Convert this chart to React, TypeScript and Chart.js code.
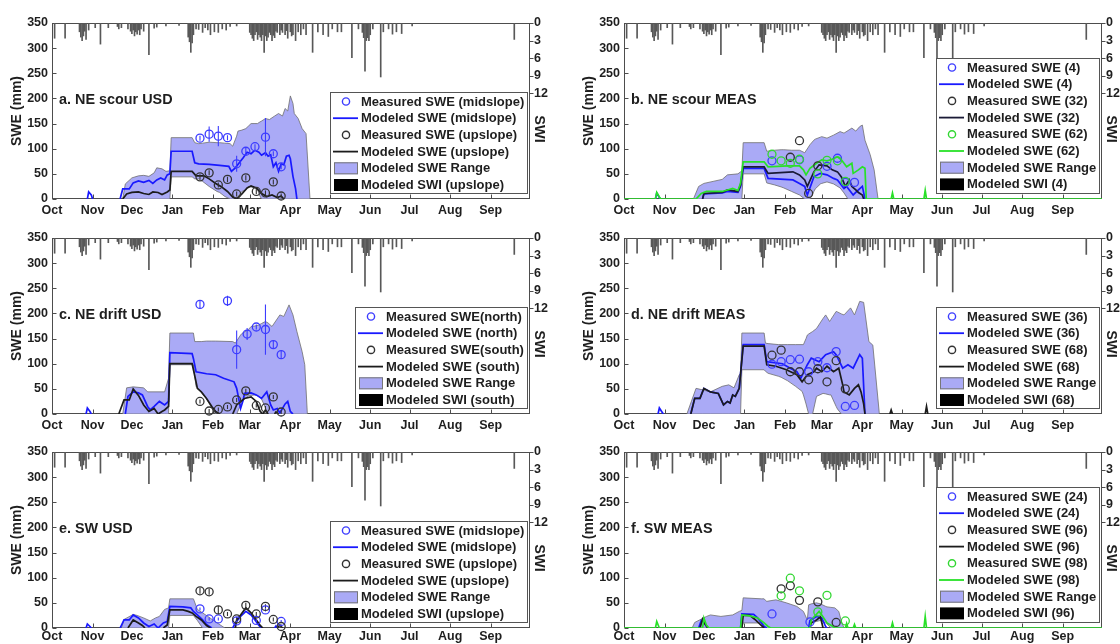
import React, { useEffect, useRef } from 'react';
import { Chart, registerables } from 'chart.js';

Chart.register(...registerables);

type P = [number, number | null];

const FONT = '"Liberation Sans", Arial, Helvetica, sans-serif';
const TXT = '#1e1e1e';
const AXIS = '#4d4d4d';
const BLUE = 'rgb(25,25,255)';
const BLUE_PT = 'rgb(60,60,255)';
const BLACK = '#1c1c1c';
const BLACK_PT = '#333333';
const GREEN = 'rgb(40,225,40)';
const GREEN_PT = 'rgb(50,215,50)';
const RANGE_FILL = 'rgb(170,170,246)';
const RANGE_EDGE = '#6e6e6e';
const SWI_COLOR = '#585858';

// ---- axes ----
const monthStarts = [0, 31, 61, 92, 123, 151, 182, 212, 243, 273, 304, 335];
const monthNames = ['Oct', 'Nov', 'Dec', 'Jan', 'Feb', 'Mar', 'Apr', 'May', 'Jun', 'Jul', 'Aug', 'Sep'];
const sweTickValues = [0, 50, 100, 150, 200, 250, 300, 350];
const swiTickValues = [0, 3, 6, 9, 12];

// ---- daily SWI (day of water year, SWI) ----
const swiDaily: [number, number][] = [
  [2, 2.6], [10, 2.6], [21, 1.5], [22, 2.4], [23, 3.0], [24, 2.2], [25, 1.4], [26, 2.8], [28, 1.2], [33, 0.8],
  [37, 3.6], [43, 0.8], [50, 0.6], [51, 1.0], [53, 0.8], [58, 1.0], [60, 1.4], [61, 1.8], [62, 1.2], [63, 2.2],
  [64, 1.5], [65, 1.9], [66, 1.2], [67, 2.0], [68, 1.0], [70, 1.4], [74, 5.4], [78, 0.9], [80, 0.7], [87, 0.5],
  [97, 0.4], [104, 2.4], [105, 3.2], [106, 5.0], [107, 3.4], [108, 2.0], [110, 1.0], [112, 1.1], [115, 1.6], [117, 0.8],
  [119, 1.2], [121, 2.0], [124, 1.5], [127, 1.6], [130, 1.0], [133, 1.2], [136, 0.6], [141, 0.5], [151, 1.6], [152, 2.0],
  [153, 2.6], [154, 3.0], [155, 2.0], [156, 1.5], [157, 2.8], [158, 2.0], [159, 2.4], [160, 3.0], [161, 2.0], [162, 5.0],
  [163, 2.2], [164, 3.0], [165, 2.4], [166, 1.6], [167, 2.0], [168, 3.0], [169, 2.1], [170, 2.5], [171, 1.4], [172, 1.6],
  [174, 2.0], [175, 1.2], [176, 1.6], [178, 2.0], [179, 1.3], [180, 2.6], [182, 1.5], [183, 2.2], [184, 2.0], [186, 3.0],
  [188, 1.5], [190, 2.0], [192, 1.0], [194, 2.0], [199, 5.0], [203, 1.5], [207, 2.0], [211, 2.3], [214, 1.0], [218, 1.5],
  [221, 1.5], [229, 5.9], [234, 1.0], [237, 1.6], [238, 2.5], [239, 8.2], [240, 3.0], [241, 2.5], [242, 3.0], [243, 2.0],
  [245, 1.0], [251, 9.2], [253, 1.5], [257, 1.0], [260, 1.9], [263, 1.5], [267, 1.8], [275, 0.5], [353, 2.8],
];

// ---- panel a: NE scour USD ----
const aRangeDays = [54, 56, 61, 66, 70, 74, 78, 80, 84, 87, 90, 91, 107, 109, 112, 115, 120, 126, 128, 132, 136, 138, 141, 142, 145, 148, 150, 152, 155, 157, 158, 160, 163, 166, 170, 173, 176, 178, 180, 182, 184, 185, 188, 191, 194, 197];
const aRangeHi = [0, 30, 42, 46, 47, 45, 52, 62, 60, 55, 56, 122, 122, 112, 110, 111, 113, 112, 112, 111, 110, 105, 125, 135, 137, 140, 145, 150, 150, 150, 152, 155, 160, 158, 165, 170, 165, 180, 175, 205, 190, 170, 160, 140, 130, 0];
const aRangeLo = [0, 0, 0, 0, 0, 0, 0, 0, 0, 0, 0, 44, 44, 40, 40, 35, 25, 15, 13, 5, 0, 0, 0, 5, 15, 18, 25, 24, 22, 20, 10, 0, 0, 0, 0, 0, 0, 0, 0, 0, 0, 0, 0, 0, 0, 0];
const aModelMid: P[] = [[27, 0], [28, 14], [30, 8], [31, 0], [31, null], [52, 0], [54, 20], [59, 20], [62, 32], [66, 36], [70, 33], [74, 37], [77, 31], [80, 38], [83, 42], [86, 38], [88, 48], [90, 50], [91, 95], [107, 95], [109, 72], [112, 70], [120, 69], [128, 67], [135, 65], [137, 55], [140, 62], [143, 72], [146, 82], [149, 93], [152, 90], [155, 97], [158, 93], [160, 87], [163, 92], [165, 85], [167, 88], [169, 64], [171, 72], [173, 55], [175, 70], [177, 68], [179, 85], [181, 87], [182, 80], [184, 45], [186, 20], [187, 0]];
const aModelUp: P[] = [[54, 0], [57, 10], [61, 13], [66, 14], [70, 11], [74, 9], [77, 14], [81, 13], [84, 9], [88, 14], [90, 18], [91, 55], [107, 55], [110, 46], [116, 46], [120, 40], [125, 31], [129, 25], [134, 15], [138, 4], [141, 0], [145, 10], [149, 22], [152, 26], [156, 22], [160, 11], [164, 5], [168, 8], [172, 3], [175, 6], [177, 0]];
const aMeasMidDays = [113, 120, 127, 134, 141, 148, 155, 163, 169, 175];
const aMeasMidSwe = [121, 129, 125, 122, 70, 95, 104, 123, 90, 64];
const aMeasMidErr = [5, 15, 20, 5, 16, 8, 5, 38, 5, 5];
const aMeasUpDays = [113, 120, 127, 134, 141, 148, 156, 163, 169, 175];
const aMeasUpSwe = [44, 52, 28, 39, 10, 42, 15, 12, 34, 6];
const aMeasUpErr = [5, 5, 5, 5, 5, 5, 5, 5, 5, 5];

// ---- panel b: NE scour MEAS ----
const bRangeDays = [53, 57, 61, 68, 75, 79, 87, 89, 90, 91, 107, 109, 115, 120, 122, 128, 134, 138, 142, 145, 146, 150, 151, 155, 160, 165, 168, 171, 174, 177, 180, 182, 184, 188, 191, 194];
const bRangeHi = [0, 25, 31, 35, 39, 48, 50, 54, 55, 112, 112, 95, 97, 98, 98, 97, 97, 92, 108, 117, 119, 123, 124, 121, 127, 134, 131, 136, 141, 135, 144, 147, 117, 88, 58, 0];
const bRangeLo = [0, 0, 0, 0, 0, 0, 0, 0, 0, 50, 50, 32, 28, 24, 22, 15, 8, 0, 0, 15, 20, 30, 31, 34, 30, 22, 12, 0, 0, 0, 0, 0, 0, 0, 0, 0];
const bModel4: P[] = [[24, 0], [25, 12], [27, 3], [28, 0], [28, null], [60, 0], [61, 10], [75, 12], [79, 15], [87, 13], [89, 25], [91, 61], [107, 61], [110, 41], [129, 38], [134, 31], [138, 25], [140, 8], [145, 44], [150, 51], [155, 48], [160, 41], [163, 38], [168, 21], [170, 25], [175, 8], [179, 18], [182, 25], [184, 0]];
const bModel32: P[] = [[60, 0], [61, 11], [75, 13], [79, 18], [87, 15], [89, 28], [91, 64], [107, 64], [110, 51], [129, 54], [134, 48], [138, 38], [140, 25], [145, 54], [149, 68], [155, 66], [159, 58], [163, 54], [166, 44], [169, 25], [172, 38], [174, 25], [177, 18], [179, 13], [182, 8], [183, 0]];
const bModel62: P[] = [[0, 0], [24, 0], [25, 13], [27, 4], [28, 0], [55, 0], [59, 11], [63, 15], [75, 15], [79, 18], [83, 21], [87, 17], [89, 31], [91, 74], [107, 74], [110, 64], [125, 66], [134, 66], [137, 58], [139, 48], [142, 61], [147, 71], [151, 78], [155, 76], [159, 79], [163, 84], [166, 78], [170, 64], [174, 71], [175, 51], [179, 58], [182, 64], [184, 61], [185, 0], [204, 0], [205, 12], [206, 0], [229, 0], [230, 17], [231, 0], [365, 0]];
const bMeas4Days = [113, 134, 155, 163, 169, 176];
const bMeas4Swe = [76, 78, 65, 81, 33, 33];
const bMeas32Days = [127, 134, 141, 148];
const bMeas32Swe = [83, 116, 11, 66];
const bMeas62Days = [113, 120, 127, 134, 148, 155, 163, 169];
const bMeas62Swe = [89, 76, 71, 79, 50, 77, 76, 35];

// ---- panel c: NE drift USD ----
const cRangeDays = [54, 57, 62, 70, 73, 86, 89, 90, 108, 109, 110, 114, 118, 122, 125, 138, 140, 141, 144, 145, 150, 152, 155, 158, 160, 163, 165, 168, 174, 177, 181, 184, 187, 191, 193, 195];
const cRangeHi = [0, 52, 54, 52, 44, 44, 71, 161, 161, 144, 144, 144, 145, 145, 145, 144, 141, 145, 157, 160, 168, 174, 175, 177, 180, 184, 181, 174, 197, 194, 217, 197, 164, 124, 98, 0];
const cRangeLo = [0, 0, 0, 0, 0, 0, 0, 98, 98, 75, 55, 44, 30, 12, 0, 0, 0, 0, 18, 25, 36, 37, 38, 35, 30, 12, 0, 0, 0, 0, 0, 0, 0, 0, 0, 0];
const cModelNorth: P[] = [[26, 0], [27, 12], [29, 5], [30, 0], [30, null], [56, 0], [58, 35], [62, 44], [66, 42], [69, 38], [73, 15], [75, 8], [78, 15], [82, 25], [86, 18], [89, 25], [90, 122], [107, 120], [108, 110], [110, 84], [118, 80], [125, 78], [131, 71], [139, 64], [141, 51], [143, 25], [144, 11], [146, 28], [147, 41], [152, 42], [156, 38], [160, 31], [164, 44], [167, 18], [169, 8], [172, 11], [174, 2], [178, 20], [180, 25], [182, 5], [184, 0]];
const cModelSouth: P[] = [[51, 0], [55, 28], [59, 28], [62, 50], [66, 37], [70, 18], [74, 5], [78, 11], [81, 0], [84, 5], [86, 8], [89, 15], [90, 100], [107, 100], [110, 64], [111, 51], [114, 44], [118, 31], [122, 15], [125, 5], [128, 0], [128, null], [138, 0], [141, 18], [147, 31], [152, 34], [156, 25], [159, 5], [161, 0], [163, 8], [165, 0], [165, null], [170, 0], [171, 4], [173, 0]];
const cMeasNorthDays = [113, 134, 141, 149, 156, 163, 169, 175];
const cMeasNorthSwe = [218, 225, 128, 159, 173, 168, 138, 118];
const cMeasNorthErr = [8, 10, 38, 12, 5, 50, 8, 8];
const cMeasSouthDays = [113, 120, 127, 134, 141, 148, 156, 163, 169, 175];
const cMeasSouthSwe = [25, 6, 9, 14, 28, 46, 17, 12, 34, 4];
const cMeasSouthErr = [4, 4, 4, 4, 4, 4, 4, 4, 4, 4];

// ---- panel d: NE drift MEAS ----
const dRangeDays = [48, 55, 60, 66, 75, 80, 84, 88, 89, 90, 107, 108, 110, 118, 120, 125, 131, 136, 137, 139, 140, 141, 144, 147, 152, 154, 157, 158, 162, 163, 166, 168, 173, 176, 180, 183, 187, 190, 195];
const dRangeHi = [0, 51, 48, 44, 55, 58, 52, 78, 80, 161, 161, 141, 140, 138, 138, 138, 138, 138, 138, 150, 157, 159, 164, 170, 190, 197, 184, 188, 204, 203, 199, 197, 211, 197, 224, 222, 144, 137, 0];
const dRangeLo = [0, 0, 0, 0, 0, 0, 0, 0, 0, 88, 88, 85, 81, 75, 73, 66, 55, 45, 38, 20, 10, 0, 0, 35, 41, 40, 38, 38, 15, 10, 0, 0, 0, 0, 0, 0, 0, 0, 0];
const dModel36: P[] = [[26, 0], [27, 12], [29, 4], [30, 0], [30, null], [51, 0], [54, 31], [58, 31], [61, 51], [66, 44], [72, 41], [76, 18], [79, 25], [81, 22], [83, 38], [85, 35], [88, 51], [91, 138], [107, 138], [109, 104], [121, 100], [127, 91], [132, 84], [135, 71], [140, 98], [143, 111], [149, 104], [154, 118], [160, 124], [162, 118], [167, 91], [171, 98], [175, 91], [180, 118], [182, 111], [184, 0]];
const dModel68: P[] = [[51, 0], [54, 31], [58, 31], [61, 51], [66, 44], [72, 41], [76, 18], [79, 25], [81, 22], [83, 38], [85, 35], [88, 51], [91, 135], [107, 135], [109, 98], [116, 95], [124, 88], [132, 78], [136, 64], [140, 78], [145, 84], [147, 91], [151, 84], [155, 95], [160, 84], [164, 91], [167, 58], [168, 44], [172, 38], [176, 51], [179, 58], [181, 44], [183, 20], [184, 0], [184, null], [203, 0], [204, 8], [205, 0], [205, null], [230, 0], [231, 15], [232, 0]];
const dMeas36Days = [113, 120, 127, 134, 141, 148, 155, 162, 169, 176];
const dMeas36Swe = [99, 104, 108, 109, 84, 104, 92, 124, 15, 17];
const dMeas68Days = [113, 120, 127, 134, 141, 148, 155, 162, 169];
const dMeas68Swe = [117, 127, 84, 84, 68, 90, 64, 106, 50];

// ---- panel e: SW USD ----
const eRangeDays = [53, 55, 62, 65, 70, 75, 79, 82, 86, 89, 90, 108, 111, 115, 119, 125, 132];
const eRangeHi = [0, 17, 27, 25, 20, 14, 20, 23, 37, 40, 58, 58, 37, 30, 23, 12, 0];
const eRangeLo = [0, 0, 0, 0, 0, 0, 0, 0, 0, 0, 25, 25, 15, 0, 0, 0, 0];
const eModelMid: P[] = [[26, 0], [27, 8], [29, 3], [30, 0], [30, null], [52, 0], [55, 16], [59, 16], [62, 26], [66, 20], [70, 10], [74, 3], [78, 8], [81, 0], [85, 10], [88, 13], [90, 43], [100, 42], [106, 40], [108, 33], [111, 26], [115, 16], [118, 7], [122, 0], [122, null], [138, 0], [140, 10], [144, 23], [148, 33], [152, 26], [155, 16], [158, 5], [160, 0], [160, null], [170, 0], [171, 4], [172, 0]];
const eModelUp: P[] = [[58, 0], [62, 16], [66, 10], [69, 5], [71, 0], [71, null], [85, 0], [88, 6], [90, 36], [100, 36], [104, 33], [107, 30], [110, 23], [114, 16], [118, 5], [121, 0], [121, null], [140, 0], [141, 16], [144, 26], [148, 40], [152, 30], [155, 20], [159, 5], [161, 0], [161, null], [172, 0], [174, 6], [176, 0]];
const eMeasMidDays = [113, 120, 127, 141, 156, 163, 175];
const eMeasMidSwe = [38, 18, 18, 14, 15, 36, 13];
const eMeasMidErr = [3, 3, 3, 3, 3, 3, 3];
const eMeasUpDays = [113, 120, 127, 134, 141, 148, 156, 163, 169, 175];
const eMeasUpSwe = [74, 72, 36, 28, 18, 45, 28, 43, 17, 3];
const eMeasUpErr = [6, 6, 8, 4, 4, 5, 4, 4, 4, 4];

// ---- panel f: SW MEAS ----
const fRangeDays = [52, 54, 63, 66, 74, 83, 88, 90, 91, 105, 107, 108, 109, 116, 124, 132, 137, 140, 141, 143, 147, 150, 154, 155, 158, 161, 164, 166, 168];
const fRangeHi = [0, 11, 23, 26, 23, 26, 33, 35, 60, 58, 58, 55, 53, 56, 50, 43, 33, 16, 46, 48, 50, 48, 43, 42, 41, 40, 33, 13, 0];
const fRangeLo = [0, 0, 0, 0, 0, 0, 0, 0, 10, 10, 5, 0, 0, 0, 0, 0, 0, 0, 0, 10, 13, 15, 10, 8, 0, 0, 0, 0, 0];
const fModel24: P[] = [[57, 0], [59, 15], [61, 10], [64, 0], [64, null], [89, 0], [90, 28], [99, 27], [102, 20], [105, 10], [107, 3], [109, 0], [109, null], [141, 0], [142, 15], [147, 23], [151, 20], [154, 3], [155, 0]];
const fModel96: P[] = [[58, 0], [60, 18], [62, 8], [64, 0], [64, null], [90, 0], [91, 25], [96, 25], [100, 17], [104, 7], [107, 0], [107, null], [142, 0], [143, 10], [147, 16], [150, 22], [152, 0]];
const fModel98: P[] = [[0, 0], [24, 0], [25, 13], [27, 0], [60, 0], [61, 20], [63, 5], [65, 0], [89, 0], [90, 26], [96, 24], [102, 20], [107, 10], [110, 3], [112, 0], [142, 0], [143, 16], [149, 33], [151, 26], [155, 10], [159, 4], [161, 0], [169, 0], [170, 9], [171, 0], [175, 0], [176, 7], [177, 0], [204, 0], [205, 10], [206, 0], [229, 0], [230, 23], [231, 0], [365, 0]];
const fMeas24Days = [113, 142];
const fMeas24Swe = [28, 12];
const fMeas96Days = [120, 127, 134, 148, 162];
const fMeas96Swe = [78, 84, 55, 52, 11];
const fMeas98Days = [120, 127, 134, 148, 155, 169];
const fMeas98Swe = [64, 99, 74, 32, 65, 14];

// ---- layout ----
const colCanvasLeft = [0, 560];
const colChartLeft = [52, 624];
const colChartRight = [530, 1102];
const rowCanvasTop = [0, 215, 429];
const rowCanvasH = [220, 220, 215];
const rowLabelPad = [4, 4, 1];
const PAD_TOP = 23;
const PLOT_H = 176;

interface Site {
  measLabel: string; modelLabel: string; color: string; ptColor: string;
  model: P[]; days: number[]; swe: number[]; err?: number[];
}
interface Spec {
  key: string; title: string; col: number; row: number;
  rangeDays: number[]; rangeHi: number[]; rangeLo: number[];
  sites: Site[]; swiLabel: string;
}

const panels: Spec[] = [
  {
    key: 'a', title: 'a. NE scour USD', col: 0, row: 0,
    rangeDays: aRangeDays, rangeHi: aRangeHi, rangeLo: aRangeLo, swiLabel: 'Modeled SWI (upslope)',
    sites: [
      { measLabel: 'Measured SWE (midslope)', modelLabel: 'Modeled SWE (midslope)', color: BLUE, ptColor: BLUE_PT, model: aModelMid, days: aMeasMidDays, swe: aMeasMidSwe, err: aMeasMidErr },
      { measLabel: 'Measured SWE (upslope)', modelLabel: 'Modeled SWE (upslope)', color: BLACK, ptColor: BLACK_PT, model: aModelUp, days: aMeasUpDays, swe: aMeasUpSwe, err: aMeasUpErr },
    ],
  },
  {
    key: 'b', title: 'b. NE scour MEAS', col: 1, row: 0,
    rangeDays: bRangeDays, rangeHi: bRangeHi, rangeLo: bRangeLo, swiLabel: 'Modeled SWI (4)',
    sites: [
      { measLabel: 'Measured SWE (4)', modelLabel: 'Modeled SWE (4)', color: BLUE, ptColor: BLUE_PT, model: bModel4, days: bMeas4Days, swe: bMeas4Swe },
      { measLabel: 'Measured SWE (32)', modelLabel: 'Modeled SWE (32)', color: '#1a1a36', ptColor: BLACK_PT, model: bModel32, days: bMeas32Days, swe: bMeas32Swe },
      { measLabel: 'Measured SWE (62)', modelLabel: 'Modeled SWE (62)', color: GREEN, ptColor: GREEN_PT, model: bModel62, days: bMeas62Days, swe: bMeas62Swe },
    ],
  },
  {
    key: 'c', title: 'c. NE drift USD', col: 0, row: 1,
    rangeDays: cRangeDays, rangeHi: cRangeHi, rangeLo: cRangeLo, swiLabel: 'Modeled SWI (south)',
    sites: [
      { measLabel: 'Measured SWE(north)', modelLabel: 'Modeled SWE (north)', color: BLUE, ptColor: BLUE_PT, model: cModelNorth, days: cMeasNorthDays, swe: cMeasNorthSwe, err: cMeasNorthErr },
      { measLabel: 'Measured SWE(south)', modelLabel: 'Modeled SWE (south)', color: BLACK, ptColor: BLACK_PT, model: cModelSouth, days: cMeasSouthDays, swe: cMeasSouthSwe, err: cMeasSouthErr },
    ],
  },
  {
    key: 'd', title: 'd. NE drift MEAS', col: 1, row: 1,
    rangeDays: dRangeDays, rangeHi: dRangeHi, rangeLo: dRangeLo, swiLabel: 'Modeled SWI (68)',
    sites: [
      { measLabel: 'Measured SWE (36)', modelLabel: 'Modeled SWE (36)', color: BLUE, ptColor: BLUE_PT, model: dModel36, days: dMeas36Days, swe: dMeas36Swe },
      { measLabel: 'Measured SWE (68)', modelLabel: 'Modeled SWE (68)', color: BLACK, ptColor: BLACK_PT, model: dModel68, days: dMeas68Days, swe: dMeas68Swe },
    ],
  },
  {
    key: 'e', title: 'e. SW USD', col: 0, row: 2,
    rangeDays: eRangeDays, rangeHi: eRangeHi, rangeLo: eRangeLo, swiLabel: 'Modeled SWI (upslope)',
    sites: [
      { measLabel: 'Measured SWE (midslope)', modelLabel: 'Modeled SWE (midslope)', color: BLUE, ptColor: BLUE_PT, model: eModelMid, days: eMeasMidDays, swe: eMeasMidSwe, err: eMeasMidErr },
      { measLabel: 'Measured SWE (upslope)', modelLabel: 'Modeled SWE (upslope)', color: BLACK, ptColor: BLACK_PT, model: eModelUp, days: eMeasUpDays, swe: eMeasUpSwe, err: eMeasUpErr },
    ],
  },
  {
    key: 'f', title: 'f. SW MEAS', col: 1, row: 2,
    rangeDays: fRangeDays, rangeHi: fRangeHi, rangeLo: fRangeLo, swiLabel: 'Modeled SWI (96)',
    sites: [
      { measLabel: 'Measured SWE (24)', modelLabel: 'Modeled SWE (24)', color: BLUE, ptColor: BLUE_PT, model: fModel24, days: fMeas24Days, swe: fMeas24Swe },
      { measLabel: 'Measured SWE (96)', modelLabel: 'Modeled SWE (96)', color: BLACK, ptColor: BLACK_PT, model: fModel96, days: fMeas96Days, swe: fMeas96Swe },
      { measLabel: 'Measured SWE (98)', modelLabel: 'Modeled SWE (98)', color: GREEN, ptColor: GREEN_PT, model: fModel98, days: fMeas98Days, swe: fMeas98Swe },
    ],
  },
];

function toXY(p: P[]) {
  return p.map(([x, y]) => ({ x, y }));
}
function errSegments(days: number[], swe: number[], err: number[]) {
  const out: { x: number; y: number | null }[] = [];
  days.forEach((d, i) => {
    out.push({ x: d, y: swe[i] - err[i] }, { x: d, y: swe[i] + err[i] }, { x: d, y: null });
  });
  return out;
}

type LegendItem = { text: string; kind: 'marker' | 'line' | 'patch'; color: string; edge?: string };

function makeDeco(spec: Spec, items: LegendItem[]) {
  return {
    id: 'panelDeco_' + spec.key,
    beforeDatasetsDraw(chart: any) {
      const { ctx, chartArea: ca, scales } = chart;
      const L = Math.round(ca.left) + 0.5;
      const R = Math.round(ca.right) - 0.5;
      const T = Math.round(ca.top) + 0.5;
      const B = Math.round(ca.bottom) - 0.5;
      ctx.save();
      ctx.strokeStyle = AXIS;
      ctx.lineWidth = 1;
      ctx.strokeRect(L, T, R - L, B - T);
      ctx.beginPath();
      for (const d of monthStarts) {
        const x = Math.round(scales.x.getPixelForValue(d)) + 0.5;
        ctx.moveTo(x, B); ctx.lineTo(x, B - 4);
      }
      for (const v of sweTickValues) {
        const y = Math.round(scales.y.getPixelForValue(v)) + 0.5;
        ctx.moveTo(L, y); ctx.lineTo(L + 4, y);
      }
      for (const v of swiTickValues) {
        const y = Math.round(scales.y2.getPixelForValue(v)) + 0.5;
        ctx.moveTo(R, y); ctx.lineTo(R + 4, y);
      }
      ctx.stroke();
      ctx.restore();
    },
    afterDraw(chart: any) {
      const { ctx, chartArea: ca } = chart;
      ctx.save();
      ctx.fillStyle = TXT;
      ctx.textBaseline = 'middle';
      ctx.font = `bold 14.4px ${FONT}`;
      ctx.textAlign = 'left';
      ctx.fillText(spec.title, ca.left + 7, ca.top + 77);

      ctx.save();
      ctx.translate(ca.left - 35, (ca.top + ca.bottom) / 2);
      ctx.rotate(-Math.PI / 2);
      ctx.textAlign = 'center';
      ctx.font = `bold 14px ${FONT}`;
      ctx.fillText('SWE (mm)', 0, 0);
      ctx.restore();

      ctx.save();
      ctx.translate(ca.right + 9, ca.top + 106);
      ctx.rotate(Math.PI / 2);
      ctx.textAlign = 'center';
      ctx.font = `bold 14.5px ${FONT}`;
      ctx.fillText('SWI', 0, 0);
      ctx.restore();

      // legend
      ctx.font = `bold 13px ${FONT}`;
      const tw = Math.max(...items.map((it) => ctx.measureText(it.text).width));
      const rowH = 16.7;
      const w = Math.round(31 + tw + 3);
      const h = Math.round(items.length * rowH + 1);
      const right = Math.round(ca.right) - 3;
      const bottom = Math.round(ca.bottom) - 6;
      const x0 = right - w;
      const y0 = bottom - h;
      ctx.fillStyle = '#ffffff';
      ctx.fillRect(x0, y0, w, h);
      ctx.strokeStyle = '#555555';
      ctx.lineWidth = 1;
      ctx.strokeRect(x0 + 0.5, y0 + 0.5, w, h);
      items.forEach((it, i) => {
        const cy = y0 + 9.5 + i * rowH;
        if (it.kind === 'line') {
          ctx.strokeStyle = it.color;
          ctx.lineWidth = 1.8;
          ctx.beginPath();
          ctx.moveTo(x0 + 3, cy);
          ctx.lineTo(x0 + 28, cy);
          ctx.stroke();
        } else if (it.kind === 'marker') {
          ctx.strokeStyle = it.color;
          ctx.lineWidth = 1.4;
          ctx.beginPath();
          ctx.arc(x0 + 16, cy, 3.6, 0, Math.PI * 2);
          ctx.stroke();
        } else {
          ctx.fillStyle = it.color;
          ctx.fillRect(x0 + 4, cy - 6, 24, 12);
          if (it.edge) {
            ctx.strokeStyle = it.edge;
            ctx.lineWidth = 1;
            ctx.strokeRect(x0 + 4.5, cy - 5.5, 23, 11);
          }
        }
        ctx.fillStyle = TXT;
        ctx.textAlign = 'left';
        ctx.fillText(it.text, x0 + 31, cy + 0.5);
      });
      ctx.restore();
    },
  };
}

function buildConfig(spec: Spec): any {
  const datasets: any[] = [];
  const items: LegendItem[] = [];
  const n = spec.sites.length;
  spec.sites.forEach((s, i) => {
    const rank = (n - i) * 0.1;
    datasets.push({
      type: 'line', label: s.measLabel,
      data: s.days.map((d, k) => ({ x: d, y: s.swe[k] })),
      showLine: false, pointRadius: 4, pointHoverRadius: 4, pointStyle: 'circle',
      pointBorderWidth: 1.3, borderColor: s.ptColor, pointBorderColor: s.ptColor,
      pointBackgroundColor: 'rgba(0,0,0,0)', backgroundColor: 'rgba(0,0,0,0)',
      order: rank, clip: false,
    });
    if (s.err) {
      datasets.push({
        type: 'line', label: s.measLabel + ' error',
        data: errSegments(s.days, s.swe, s.err),
        borderColor: s.ptColor, borderWidth: 1.1, pointRadius: 0, spanGaps: false, fill: false,
        order: 1 + rank,
      });
    }
    datasets.push({
      type: 'line', label: s.modelLabel, data: toXY(s.model),
      borderColor: s.color, borderWidth: 1.7, pointRadius: 0, spanGaps: false, fill: false,
      tension: 0, order: 2 + rank,
    });
    items.push({ text: s.measLabel, kind: 'marker', color: s.ptColor });
    items.push({ text: s.modelLabel, kind: 'line', color: s.color });
  });
  items.push({ text: 'Modeled SWE Range', kind: 'patch', color: RANGE_FILL, edge: '#777777' });
  items.push({ text: spec.swiLabel, kind: 'patch', color: '#000000' });

  datasets.push({
    type: 'bar', label: spec.swiLabel, yAxisID: 'y2',
    data: swiDaily.map(([x, y]) => ({ x, y })),
    backgroundColor: SWI_COLOR, borderWidth: 0, barThickness: 1, grouped: false, order: 3,
  });
  datasets.push({
    type: 'line', label: 'Modeled SWE Range (low)',
    data: spec.rangeDays.map((d, i) => ({ x: d, y: spec.rangeLo[i] })),
    borderColor: RANGE_EDGE, borderWidth: 0.8, pointRadius: 0, fill: false, order: 4,
  });
  datasets.push({
    type: 'line', label: 'Modeled SWE Range',
    data: spec.rangeDays.map((d, i) => ({ x: d, y: spec.rangeHi[i] })),
    borderColor: RANGE_EDGE, borderWidth: 0.8, pointRadius: 0, fill: '-1',
    backgroundColor: RANGE_FILL, order: 4,
  });

  const canvasH = rowCanvasH[spec.row];
  const xH = canvasH - PAD_TOP - PLOT_H;
  const yW = colChartLeft[spec.col] - colCanvasLeft[spec.col];
  const y2W = colCanvasLeft[spec.col] + 560 - colChartRight[spec.col];
  const tickFont = { family: FONT, size: 12.5, weight: 'bold' as const };
  const noGrid = { display: false, drawTicks: false, tickLength: 0, offset: false };

  return {
    type: 'line',
    data: { datasets },
    options: {
      responsive: false,
      animation: false,
      events: [],
      layout: { padding: { top: PAD_TOP, left: 0, right: 0, bottom: 0 }, autoPadding: false },
      plugins: { legend: { display: false }, tooltip: { enabled: false } },
      scales: {
        x: {
          type: 'linear', min: 0, max: 365, position: 'bottom', offset: false,
          grid: noGrid, border: { display: false },
          ticks: {
            autoSkip: false, maxRotation: 0, minRotation: 0, padding: rowLabelPad[spec.row], color: TXT, font: tickFont,
            callback: (v: any) => monthNames[monthStarts.indexOf(Number(v))] ?? '',
          },
          afterBuildTicks: (s: any) => { s.ticks = monthStarts.map((v) => ({ value: v })); },
          afterFit: (s: any) => { s.height = xH; },
        },
        y: {
          type: 'linear', min: 0, max: 350, position: 'left',
          grid: noGrid, border: { display: false },
          ticks: { padding: 4, color: TXT, font: tickFont },
          afterBuildTicks: (s: any) => { s.ticks = sweTickValues.map((v) => ({ value: v })); },
          afterFit: (s: any) => { s.width = yW; },
        },
        y2: {
          type: 'linear', min: 0, max: 30, reverse: true, position: 'right', beginAtZero: true,
          grid: noGrid, border: { display: false },
          ticks: { padding: 4, color: TXT, font: tickFont },
          afterBuildTicks: (s: any) => { s.ticks = swiTickValues.map((v) => ({ value: v })); },
          afterFit: (s: any) => { s.width = y2W; },
        },
      },
    },
    plugins: [makeDeco(spec, items)],
  };
}

function PanelChart({ spec }: { spec: Spec }) {
  const ref = useRef<HTMLCanvasElement | null>(null);
  useEffect(() => {
    if (!ref.current) return;
    const chart = new Chart(ref.current, buildConfig(spec));
    return () => chart.destroy();
  }, [spec]);
  const h = rowCanvasH[spec.row];
  return (
    <canvas
      ref={ref}
      width={560}
      height={h}
      style={{
        position: 'absolute', left: colCanvasLeft[spec.col], top: rowCanvasTop[spec.row],
        width: 560, height: h, display: 'block',
      }}
    />
  );
}

export default function App() {
  return (
    <div style={{ position: 'absolute', left: 0, top: 0, width: 1120, height: 644, background: '#ffffff', overflow: 'hidden' }}>
      {panels.map((p) => (
        <PanelChart key={p.key} spec={p} />
      ))}
    </div>
  );
}
